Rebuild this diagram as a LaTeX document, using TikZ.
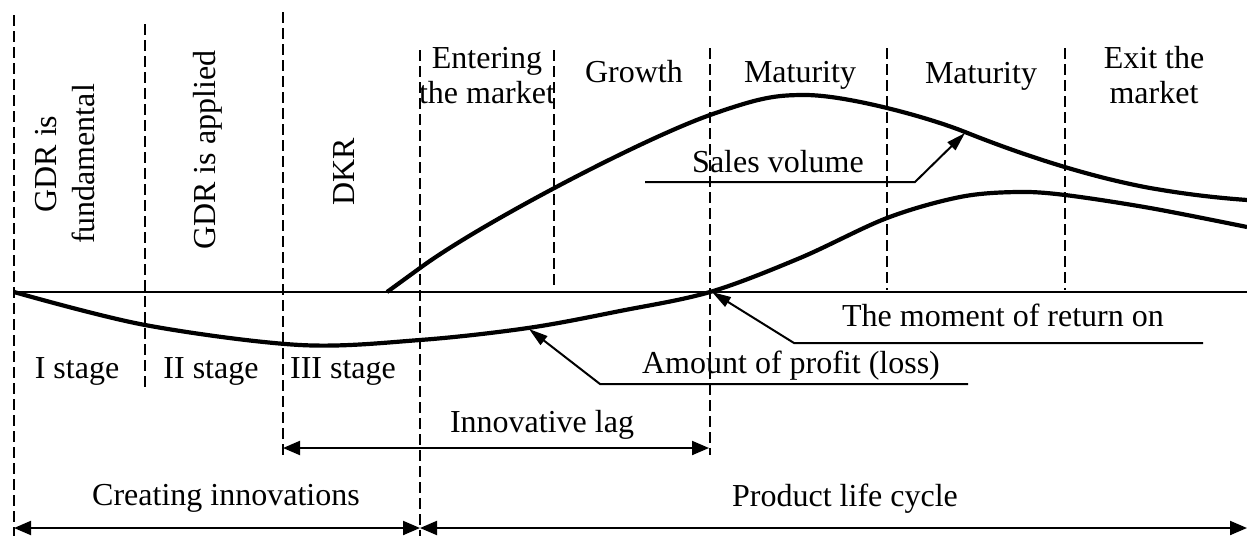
\documentclass[tikz,border=0pt]{standalone}
\usepackage{fontspec}
\setmainfont{Liberation Serif}
\usetikzlibrary{arrows.meta}
\begin{document}
\begin{tikzpicture}[x=1pt,y=-1pt,
  lbl/.style={font=\fontsize{32}{35}\selectfont, inner sep=0pt, align=center},
  dsh/.style={line width=2pt, dash pattern=on 11pt off 5pt},
  thin/.style={line width=2pt},
  curve/.style={line width=4.2pt, line join=round},
  tip/.style={-{Triangle[length=19pt,width=11pt]}},
  both/.style={{Triangle[length=17pt,width=14pt]}-{Triangle[length=17pt,width=14pt]}}]
\useasboundingbox (0,0) rectangle (1247,536);
% dashed verticals
\draw[dsh] (14,15) -- (14,536);
\draw[dsh] (145,24) -- (145,388);
\draw[dsh] (283,12) -- (283,455);
\draw[dsh] (420,50) -- (420,536);
\draw[dsh] (554,50) -- (554,287);
\draw[dsh] (710,48) -- (710,455);
\draw[dsh] (887,48) -- (887,290);
\draw[dsh] (1065,48) -- (1065,290);
% axis
\coordinate (a0) at (14,292);
\coordinate (a1) at (1247,292);
\draw[thin] (a0) -- (a1);
% sales volume curve
\draw[curve] (387,292) -- (420,268)
  .. controls (480,224) and (640,140) .. (710,115)
  .. controls (760,97.5) and (775,95) .. (805,95)
  .. controls (845,95) and (925,116) .. (965,132)
  .. controls (1010,150) and (1080,175) .. (1150,188)
  .. controls (1190,195) and (1220,198) .. (1247,200);
% profit curve
\draw[curve] plot[smooth, tension=0.55] coordinates {(14,292) (145,325) (300,345) (420,340) (528,328) (620,311) (710,292) (800,258) (887,218) (960,197) (1017,192) (1065,195) (1150,208) (1247,227)};
% top labels
\node[lbl, rotate=90, font=\fontsize{32}{38}\selectfont] (gdrf) at (65,164) {GDR is\\fundamental};
\node[lbl, rotate=90] (gdra) at (208,150) {GDR is applied};
\node[lbl, rotate=90] (dkr) at (344,172) {DKR};
\node[lbl] (enter) at (487,76) {Entering\\the market};
\node[lbl, anchor=base] (growth) at (634,82) {Growth};
\node[lbl, anchor=base] (mat1) at (800,82) {Maturity};
\node[lbl, anchor=base] (mat2) at (981,83) {Maturity};
\node[lbl] (exit) at (1154,75) {Exit the\\market};
% stages
\node[lbl, anchor=base] (s1) at (77,378) {I stage};
\node[lbl, anchor=base] (s2) at (211,378) {II stage};
\node[lbl, anchor=base] (s3) at (343,378) {III stage};
% sales volume leader
\node[lbl, anchor=base] (sales) at (778,172) {Sales volume};
\coordinate (sv0) at (645,182);
\coordinate (sv1) at (915,182);
\coordinate (sv2) at (965,133);
\draw[thin, tip] (sv0) -- (sv1) -- (sv2);
% profit leader
\node[lbl, anchor=base] (profit) at (791,373) {Amount of profit (loss)};
\coordinate (p0) at (968,384);
\coordinate (p1) at (600,384);
\coordinate (p2) at (529,329);
\draw[thin, tip] (p0) -- (p1) -- (p2);
% moment leader
\node[lbl, anchor=base] (moment) at (1003,326) {The moment of return on};
\coordinate (m0) at (1203,343);
\coordinate (m1) at (794,343);
\coordinate (m2) at (712,292);
\draw[thin, tip] (m0) -- (m1) -- (m2);
% innovative lag
\node[lbl, anchor=base] (lag) at (542,432) {Innovative lag};
\coordinate (l0) at (283,448);
\coordinate (l1) at (709,448);
\draw[thin, both] (l0) -- (l1);
% bottom
\node[lbl, anchor=base] (create) at (226,505) {Creating innovations};
\node[lbl, anchor=base] (plc) at (845,506) {Product life cycle};
\coordinate (b0) at (14,528);
\coordinate (b1) at (420,528);
\coordinate (b2) at (1247,528);
\draw[thin, both] (b0) -- (b1);
\draw[thin, both] (b1) -- (b2);
\end{tikzpicture}
\end{document}
